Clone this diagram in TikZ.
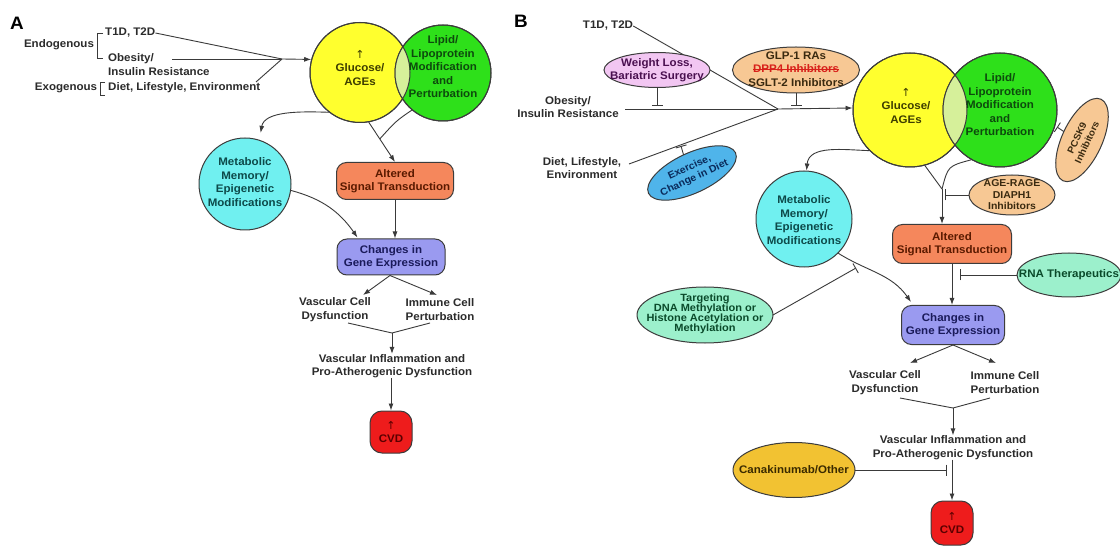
\documentclass[tikz,border=0pt]{standalone}
\usepackage{fontspec}
\setmainfont[FakeStretch=1.05]{Liberation Sans}
\newfontfamily\arrowfont{DejaVu Sans}
\usetikzlibrary{arrows.meta,shapes.geometric,calc}

% struck-through text: the word with a rule drawn across it
\newcommand\strk[1]{\setbox0\hbox{#1}\rlap{\rule[3pt]{\wd0}{0.8pt}}\box0}
% small upward arrow used for "increased"
\newcommand\upmark{{\arrowfont\mdseries ↑}}

\definecolor{ink}{HTML}{2B2B2B}
\definecolor{wire}{HTML}{3A3A3A}
\definecolor{edge}{HTML}{3C3C3C}
\definecolor{glu}{HTML}{FFFF2E}
\definecolor{gluT}{HTML}{3D3D00}
\definecolor{lip}{HTML}{2EE01A}
\definecolor{lipT}{HTML}{0D4A0D}
\definecolor{lens}{HTML}{D6F09A}
\definecolor{meta}{HTML}{70F0F0}
\definecolor{metaT}{HTML}{0D4A4A}
\definecolor{sig}{HTML}{F5875C}
\definecolor{sigT}{HTML}{5A1A00}
\definecolor{gene}{HTML}{9A9AF0}
\definecolor{geneT}{HTML}{1A1A5A}
\definecolor{cvd}{HTML}{EE1C1C}
\definecolor{cvdT}{HTML}{5A0000}
\definecolor{pinkfill}{HTML}{F2C6F2}
\definecolor{pinkT}{HTML}{4A1050}
\definecolor{peach}{HTML}{F7C894}
\definecolor{peachT}{HTML}{3A2A10}
\definecolor{dppred}{HTML}{D8201A}
\definecolor{sky}{HTML}{4FB4EA}
\definecolor{skyT}{HTML}{0A2A5A}
\definecolor{mint}{HTML}{9CF0CC}
\definecolor{mintT}{HTML}{0A4A2A}
\definecolor{gold}{HTML}{F2C232}
\definecolor{goldT}{HTML}{3A2A00}

\tikzset{
  base/.style={font=\bfseries\fontsize{11}{13.5}\selectfont, text=ink, align=center, inner sep=0pt},
  small/.style={font=\bfseries\fontsize{10}{11.5}\selectfont},
  panel/.style={font=\bfseries\fontsize{18}{18}\selectfont, text=black, inner sep=0pt},
  ln/.style={draw=wire, line width=0.9pt},
  arr/.style={ln, -{Latex[length=7pt,width=5pt]}},
  inh/.style={ln, -{Bar[width=11pt,line width=0.9pt]}},
  ring/.style={circle, draw=edge, line width=1pt, inner sep=0pt},
  pill/.style={base, rectangle, rounded corners=10pt, draw=edge, line width=1pt},
  % an oval of fixed size; its wording is set by a separate node on top
  shell/.style={ellipse, draw=edge, line width=1pt, inner sep=0pt, outer sep=0pt},
}

\begin{document}
\begin{tikzpicture}[x=1pt,y=-1pt]
\useasboundingbox (0,0) rectangle (1120,548);
\fill[white] (0,0) rectangle (1120,548);

% ================= Panel A =================
\node[panel] (labA) at (17,23) {A};

% risk factors
\node[base] (endoA) at (59,45) {Endogenous};
\draw[ln] (103,33) -- (97,33) -- (97,58) -- (103,58);
\node[base, anchor=west] (t1dA) at (105,33) {T1D, T2D};
\node[base, anchor=west, align=left] (obA) at (108,64.5) {Obesity/\\Insulin Resistance};
\node[base] (exoA) at (66,88) {Exogenous};
\draw[ln] (105,82) -- (100,82) -- (100,95) -- (105,95);
\node[base, anchor=west] (dietA) at (108,88) {Diet, Lifestyle, Environment};

\coordinate (cA) at (282,59);
\coordinate (obAs) at (172,59);
\coordinate (dietAs) at (256,82);
\draw[ln] (t1dA.east) -- (cA);
\draw[ln] (obAs) -- (cA);
\draw[ln] (dietAs) -- (cA);

% glucose / lipid circles
\node[ring, fill=glu, minimum size=100pt] (glucA) at (360,72.5) {};
\node[ring, fill=lip, minimum size=96pt] (lipA) at (443,73) {};
\begin{scope}
  \clip (360,72.5) circle[radius=50pt];
  \fill[lens] (443,73) circle[radius=48pt];
\end{scope}
\draw[edge, line width=1pt] (360,72.5) circle[radius=50pt] (443,73) circle[radius=48pt];
\node[base, text=gluT] (glucAt) at (360,68) {\upmark\\Glucose/\\AGEs};
\node[base, text=lipT] (lipAt) at (443,67) {Lipid/\\Lipoprotein\\Modification\\and\\Perturbation};
\draw[arr] (cA) -- (glucA.165);

% downstream
\node[ring, fill=meta, minimum size=92pt] (metA) at (245,184) {};
\node[base, text=metaT] (metAt) at (245,182) {Metabolic\\Memory/\\Epigenetic\\Modifications};
\node[pill, fill=sig, text=sigT, minimum width=117pt, minimum height=37pt] (altA) at (395,181) {Altered\\Signal Transduction};
\node[pill, fill=gene, text=geneT, minimum width=108pt, minimum height=36pt] (chgA) at (391,257) {Changes in\\Gene Expression};

\draw[arr, shorten >=7pt] (glucA.-128) to[out=178, in=80] (metA.72);
\draw[arr] (glucA.-80) -- (altA.north);
\coordinate (jA) at ($(glucA.-80)!0.42!(altA.north)$);
\draw[ln] (lipA.-130) .. controls (396,121) .. (jA);
\draw[arr] (altA.south) -- (altA.south |- chgA.north);
\coordinate (chgAin) at ($(chgA.north west)+(21,-1)$);
\draw[arr] (metA.-8) to[out=-15, in=125] (chgAin);

\node[base] (vascA) at (335,309.5) {Vascular Cell\\Dysfunction};
\node[base] (immA) at (440,309.5) {Immune Cell\\Perturbation};
\coordinate (dA) at ($(chgA.south)+(-1,0)$);
\draw[arr] (dA) -- (363,295);
\draw[arr] (dA) -- (437,295);
\coordinate (jA2) at (392,333);
\draw[ln] (348,323) -- (jA2) -- (430,323);
\node[base] (infA) at (392,366) {Vascular Inflammation and\\Pro-Atherogenic Dysfunction};
\draw[arr] (jA2) -- (infA.north);
\node[base, rectangle, rounded corners=12pt, draw=edge, line width=1pt, fill=cvd, text=cvdT, minimum width=42pt, minimum height=42pt] (cvdA) at (391,432) {\upmark\\CVD};
\draw[arr] (infA.south -| cvdA.north) -- (cvdA.north);

% ================= Panel B =================
\node[panel] (labB) at (521,21) {B};

\node[base] (t1dB) at (608,26) {T1D, T2D};
\node[base] (obB) at (568,107) {Obesity/\\Insulin Resistance};
\node[base, font=\bfseries\fontsize{11}{12.5}\selectfont] (dietB) at (582,168) {Diet, Lifestyle,\\Environment};

\coordinate (cB) at (778,109);
\coordinate (obBs) at (625,109);
\coordinate (dietBs) at (629,164);
\draw[ln] (t1dB.east) -- (cB);
\draw[ln] (obBs) -- (cB);
\draw[ln] (dietBs) -- (cB);

% circles
\node[ring, fill=glu, minimum size=114pt] (glucB) at (910,110) {};
\node[ring, fill=lip, minimum size=114pt] (lipB) at (1000,110) {};
\begin{scope}
  \clip (910,110) circle[radius=57pt];
  \fill[lens] (1000,110) circle[radius=57pt];
\end{scope}
\draw[edge, line width=1pt] (910,110) circle[radius=57pt] (1000,110) circle[radius=57pt];
\node[base, text=gluT] (glucBt) at (906,106) {\upmark\\Glucose/\\AGEs};
\node[base, text=lipT] (lipBt) at (1000,105) {Lipid/\\Lipoprotein\\Modification\\and\\Perturbation};
\draw[arr] (cB) -- (glucB.178);

% interventions on risk factors
\node[shell, fill=pinkfill, minimum width=106pt, minimum height=35pt] (wlB) at (657,70) {};
\node[base, text=pinkT] (wlBt) at (657,70) {Weight Loss,\\Bariatric Surgery};
\node[shell, fill=peach, minimum width=127pt, minimum height=46pt] (glpB) at (796,70) {};
\node[base, text=peachT] (glpBt) at (796,69) {GLP-1 RAs\\\textcolor{dppred}{\strk{DPP4 Inhibitors}}\\SGLT-2 Inhibitors};
\node[shell, fill=sky, rotate=25, minimum width=96pt, minimum height=40pt] (exB) at (692,173) {};
\node[base, small, text=skyT, rotate=25] (exBt) at (692,173) {Exercise,\\Change in Diet};
\coordinate (tW) at (657,106);
\coordinate (tG) at (796,106);
\coordinate (tE) at (681,146);
\draw[inh] (wlB.south) -- (tW);
\draw[inh] (glpB.south) -- (tG);
\draw[inh] (exB.north) -- (tE);

% lipid-side interventions
\node[shell, fill=peach, rotate=65, minimum width=90pt, minimum height=40pt] (pcB) at (1082,140) {};
\node[base, font=\bfseries\fontsize{9.5}{11}\selectfont, text=peachT, rotate=65] (pcBt) at (1082,140) {PCSK9\\Inhibitors};
\coordinate (tP) at (1057,127);
\draw[inh] (pcB.north) -- (tP);

% downstream
\node[ring, fill=meta, minimum size=96pt] (metB) at (804,219) {};
\node[base, text=metaT] (metBt) at (804,220) {Metabolic\\Memory/\\Epigenetic\\Modifications};
\node[pill, fill=sig, text=sigT, minimum width=119pt, minimum height=39pt] (altB) at (952,244) {Altered\\Signal Transduction};
\node[pill, fill=gene, text=geneT, minimum width=103pt, minimum height=39pt] (chgB) at (953,325) {Changes in\\Gene Expression};
\node[shell, fill=peach, minimum width=86pt, minimum height=40pt] (ageB) at (1012,195) {};
\node[base, small, text=peachT] (ageBt) at (1012,195) {AGE-RAGE\\DIAPH1\\Inhibitors};

\draw[arr] (glucB.-135) to[out=178, in=85] (metB.87);
\coordinate (jB) at (942,189);
\draw[ln] (glucB.-75) -- (jB);
\draw[arr] (jB) -- (jB |- altB.north);
\draw[ln] (lipB.-120) .. controls (948,166) .. (jB);
\coordinate (tA) at (945,195);
\draw[inh] (ageB.west) -- (tA);

\node[shell, fill=mint, minimum width=104pt, minimum height=44pt] (rnaB) at (1069,275) {};
\node[base, text=mintT] (rnaBt) at (1069,275) {RNA Therapeutics};
\draw[arr] (altB.south) -- (altB.south |- chgB.north);
\coordinate (tR) at (960,275);
\draw[inh] (rnaB.west) -- (tR);

\coordinate (chgBin) at ($(chgB.north west)+(10,-3)$);
\draw[arr] (metB.-45) to[out=-32, in=125] (chgBin);
\node[shell, fill=mint, minimum width=136pt, minimum height=56pt] (tgB) at (705,315) {};
\node[base, text=mintT, font=\bfseries\fontsize{10.5}{10}\selectfont] (tgBt) at (705,314) {Targeting\\DNA Methylation or\\Histone Acetylation or\\Methylation};
\coordinate (tT) at (856,268);
\draw[inh] (tgB.east) -- (tT);

\node[base] (vascB) at (885,382.5) {Vascular Cell\\Dysfunction};
\node[base] (immB) at (1005,382.5) {Immune Cell\\Perturbation};
\draw[arr] (chgB.south) -- (910,363);
\draw[arr] (chgB.south) -- (996,363);
\coordinate (jB2) at (953,408);
\draw[ln] (900,398) -- (jB2) -- (990,398);
\node[base] (infB) at (953,447.5) {Vascular Inflammation and\\Pro-Atherogenic Dysfunction};
\draw[arr] (jB2) -- (infB.north);
\node[base, rectangle, rounded corners=12pt, draw=edge, line width=1pt, fill=cvd, text=cvdT, minimum width=42pt, minimum height=44pt] (cvdB) at (952,523) {\upmark\\CVD};
\draw[arr] (infB.south -| cvdB.north) -- (cvdB.north);
\node[shell, fill=gold, minimum width=122pt, minimum height=55pt] (canB) at (794,470) {};
\node[base, text=goldT] (canBt) at (794,470) {Canakinumab/Other};
\coordinate (tC) at (947,470);
\draw[inh] (canB.east) -- (tC);

\end{tikzpicture}
\end{document}
